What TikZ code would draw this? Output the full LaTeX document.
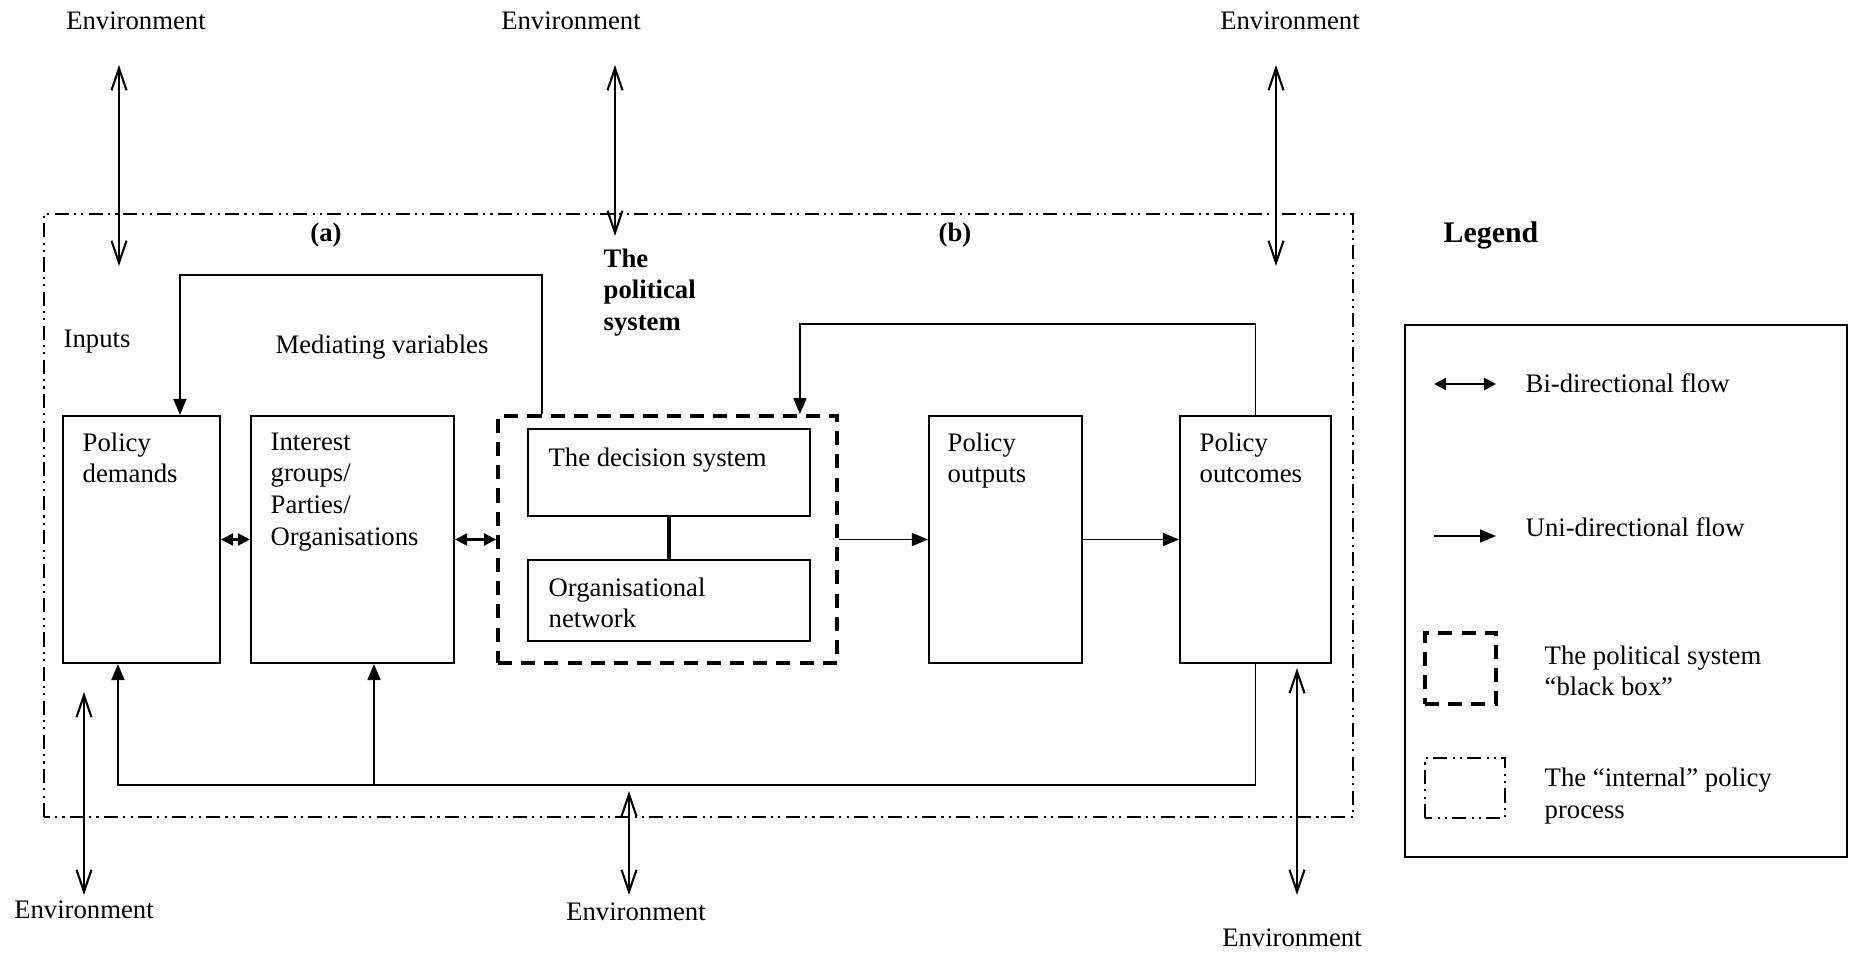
\documentclass[tikz,border=0pt]{standalone}
\usepackage{fontspec}
\setmainfont{Liberation Serif}
\usetikzlibrary{arrows.meta,positioning}

\tikzset{
  box/.style={draw, line width=0.6pt, inner sep=0pt},
  blackbox/.style={draw, line width=1.1pt, dash pattern=on 4pt off 2.6pt, inner sep=0pt},
  internal/.style={line width=0.5pt, dash pattern=on 4pt off 1.5pt on 0.6pt off 1.5pt on 0.6pt off 1.5pt},
  boxtext/.style={anchor=north west, inner sep=0pt, align=left},
  uni/.style={-{Triangle[length=1.6mm,width=1.3mm]}, line width=0.5pt},
  bi/.style={{Triangle[length=1.2mm,width=1.2mm]}-{Triangle[length=1.2mm,width=1.2mm]}, line width=0.7pt},
  env/.style={{Straight Barb[length=2.2mm,width=1.5mm]}-{Straight Barb[length=2.2mm,width=1.5mm]}, line width=0.6pt},
}

\begin{document}
\begin{tikzpicture}[font=\fontsize{7.6}{9}\selectfont]
\useasboundingbox (0,0) rectangle (18.54,9.52);

% the internal policy process
\draw[internal] (0.44,1.35) rectangle (13.53,7.38);

% boxes
\node[box, minimum width=1.57cm, minimum height=2.47cm] (pd) at (1.415,4.125) {};
\node[box, minimum width=2.03cm, minimum height=2.47cm] (ig) at (3.525,4.125) {};
\node[blackbox, minimum width=3.39cm, minimum height=2.47cm] (bb) at (6.675,4.125) {};
\node[box, minimum width=2.82cm, minimum height=0.87cm] (ds) at (6.69,4.795) {};
\node[box, minimum width=2.82cm, minimum height=0.81cm] (on) at (6.69,3.515) {};
\node[box, minimum width=1.53cm, minimum height=2.47cm] (po) at (10.055,4.125) {};
\node[box, minimum width=1.51cm, minimum height=2.47cm] (pc) at (12.555,4.125) {};

\node[boxtext] (pdtext) at ([shift={(0.2,-0.17)}]pd.north west) {Policy\\demands};
\node[boxtext] (igtext) at ([shift={(0.2,-0.17)}]ig.north west) {Interest\\groups/\\Parties/\\Organisations};
\node[boxtext] (dstext) at ([shift={(0.21,-0.19)}]ds.north west) {The decision system};
\node[boxtext] (ontext) at ([shift={(0.21,-0.18)}]on.north west) {Organisational\\network};
\node[boxtext] (potext) at ([shift={(0.19,-0.17)}]po.north west) {Policy\\outputs};
\node[boxtext] (pctext) at ([shift={(0.2,-0.17)}]pc.north west) {Policy\\outcomes};

% labels
\node (a) at (3.26,7.17) {\bfseries (a)};
\node (b) at (9.55,7.17) {\bfseries (b)};
\node[boxtext] (polsys) at (6.03,7.04) {\bfseries The\\\bfseries political\\\bfseries system};
\node[anchor=west, inner sep=0pt] (inputs) at (0.63,6.10) {Inputs};
\node (mediating) at (3.82,6.05) {Mediating variables};

% environment
\node (envtl) at (1.36,9.31) {Environment};
\node (envtm) at (5.71,9.31) {Environment};
\node (envtr) at (12.90,9.31) {Environment};
\node (envbl) at (0.84,0.42) {Environment};
\node (envbm) at (6.36,0.40) {Environment};
\node (envbr) at (12.92,0.14) {Environment};

\coordinate (tl1) at (1.19,8.87);
\coordinate (tl2) at (1.19,6.86);
\coordinate (tm1) at (6.15,8.87);
\coordinate (tm2) at (6.15,7.16);
\coordinate (tr1) at (12.76,8.87);
\coordinate (tr2) at (12.76,6.86);
\coordinate (bl1) at (0.84,2.60);
\coordinate (bl2) at (0.84,0.57);
\coordinate (bm1) at (6.29,1.61);
\coordinate (bm2) at (6.29,0.57);
\coordinate (br1) at (12.97,2.84);
\coordinate (br2) at (12.97,0.57);

\draw[env] (tl1) -- (tl2);
\draw[env] (tm1) -- (tm2);
\draw[env] (tr1) -- (tr2);
\draw[env] (bl1) -- (bl2);
\draw[env] (bm1) -- (bm2);
\draw[env] (br1) -- (br2);

% flows
\draw[bi] (pd.east) -- (ig.west);
\draw[bi] (ig.east) -- (bb.west);
\draw[uni] (bb.east) -- (po.west);
\draw[uni] (po.east) -- (pc.west);
\draw[line width=1.3pt] (ds.south) -- (on.north);

% feedback
\draw[uni] ([xshift=4.6mm]bb.north west) -- ++(0,1.39) -| ([xshift=11.8mm]pd.north west);
\draw[uni] (pc.north) -- ++(0,0.91) -| ([xshift=-3.9mm]bb.north east);
\coordinate (branch) at (3.74,1.67);
\draw[uni] (pc.south) |- (branch) -| ([xshift=5.6mm]pd.south west);
\draw[uni] (branch) -- (branch |- ig.south);

% legend
\node (legendtitle) at (14.91,7.17) {\fontsize{8.5}{10}\selectfont\bfseries Legend};
\node[box, minimum width=4.42cm, minimum height=5.32cm] (legend) at (16.26,3.61) {};

\coordinate (bi1) at (14.34,5.68);
\coordinate (bi2) at (14.96,5.68);
\draw[bi] (bi1) -- (bi2);
\node[anchor=west, inner sep=0pt] (bitext) at (15.25,5.69) {Bi-directional flow};

\coordinate (uni1) at (14.34,4.16);
\coordinate (uni2) at (14.96,4.16);
\draw[uni] (uni1) -- (uni2);
\node[anchor=west, inner sep=0pt] (unitext) at (15.25,4.25) {Uni-directional flow};

\node[blackbox, minimum width=0.71cm, minimum height=0.71cm] (bbkey) at (14.605,2.835) {};
\node[anchor=west, inner sep=0pt, align=left] (bbtext) at (15.44,2.81) {The political system\\“black box”};

\draw[internal, line width=0.4pt] (14.25,1.34) rectangle (15.05,1.94);
\node[anchor=west, inner sep=0pt, align=left] (inttext) at (15.44,1.56) {The “internal” policy\\process};

\end{tikzpicture}
\end{document}
